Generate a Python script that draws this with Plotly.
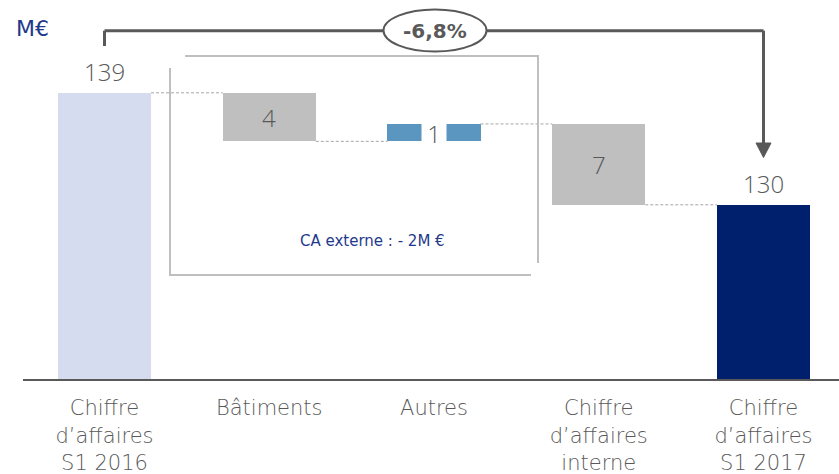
import plotly.graph_objects as go

# ---- data ----
categories = ["Chiffre<br>d’affaires<br>S1 2016", "Bâtiments", "Autres",
              "Chiffre<br>d’affaires<br>interne", "Chiffre<br>d’affaires<br>S1 2017"]
start_value = 139
deltas = [-3.9, 1.4, -6.5]
end_value = 130
value_labels = ["139", "4", "1", "7", "130"]
bar_colors = ["#D6DCF0", "#BFBFBF", "#5B96C0", "#BFBFBF", "#00206E"]
variation_label = "-6,8%"
unit_label = "M€"
note_label = "CA externe : - 2M €"

# ---- derived geometry from data ----
levels = [start_value]
for d in deltas:
    levels.append(levels[-1] + d)
bases, heights = [0], [start_value]
for i, d in enumerate(deltas):
    lo = min(levels[i], levels[i + 1])
    bases.append(lo)
    heights.append(abs(d))
bases.append(0)
heights.append(end_value)
tops = [b + h for b, h in zip(bases, heights)]
xs = list(range(len(categories)))

BAR_W = 0.565
Y_MIN, Y_MAX = 116, 146.46
PLOT_L, PLOT_R, PLOT_B = 23, 839, 379   # pixel frame of the plot area
W, H = 839, 474
UNIT = 164.75


def px(xp):
    return (xp - PLOT_L) / (PLOT_R - PLOT_L)


def py(yp):
    return (PLOT_B - yp) / PLOT_B


GRAY_TXT = "#595959"
NAVY = "#1F3A8C"
FONT = "Open Sans"
WIDE = "DejaVu Sans"

fig = go.Figure()
fig.add_trace(go.Bar(
    x=xs, y=heights, base=bases, width=BAR_W,
    marker=dict(color=bar_colors, line=dict(width=0)),
    hoverinfo="skip", showlegend=False,
))

shapes = []
annotations = []

# connectors
for i in range(len(levels)):
    shapes.append(dict(type="line", xref="x", yref="y",
                       x0=xs[i] + BAR_W / 2, x1=xs[i + 1] - BAR_W / 2,
                       y0=levels[i], y1=levels[i],
                       line=dict(color="#A6A6A6", width=1, dash="3px,2px")))

# value labels
for i, lab in enumerate(value_labels):
    if i in (0, len(value_labels) - 1):
        annotations.append(dict(x=xs[i], y=tops[i], xref="x", yref="y",
                                text=lab, showarrow=False, yanchor="bottom",
                                yshift=3, font=dict(family=FONT, size=24, color=GRAY_TXT, weight=300)))
    else:
        extra = {}
        if deltas[i - 1] > 0:
            extra = dict(bgcolor="white", width=22, height=30)
        annotations.append(dict(x=xs[i], y=bases[i] + heights[i] / 2, xref="x", yref="y",
                                text=lab, showarrow=False, yanchor="middle",
                                font=dict(family=FONT, size=24, color=GRAY_TXT, weight=300), **extra))

# bracket box (CA externe)
BOX = "#BFBFBF"
shapes.append(dict(type="path", xref="paper", yref="paper",
                   path=f"M {px(185)} {py(56)} L {px(538)} {py(56)} L {px(538)} {py(263)}",
                   line=dict(color=BOX, width=2)))
shapes.append(dict(type="path", xref="paper", yref="paper",
                   path=f"M {px(170)} {py(68)} L {px(170)} {py(275)} L {px(531)} {py(275)}",
                   line=dict(color=BOX, width=2)))
annotations.append(dict(x=px(372), y=py(241), xref="paper", yref="paper",
                        text=note_label, showarrow=False, xanchor="center", yanchor="middle",
                        font=dict(family=WIDE, size=15, color=NAVY)))

# variation arrow
ARW = "#595959"
y_top = py(30.7)
shapes += [
    dict(type="line", xref="x", yref="paper", x0=xs[0], x1=xs[0], y0=py(46), y1=y_top,
         line=dict(color=ARW, width=3)),
    dict(type="line", xref="x", yref="paper", x0=xs[0], x1=xs[-1], y0=y_top, y1=y_top,
         line=dict(color=ARW, width=3)),
    dict(type="line", xref="x", yref="paper", x0=xs[-1], x1=xs[-1], y0=y_top, y1=py(144),
         line=dict(color=ARW, width=3)),
]
hw = 7.5 / UNIT
shapes.append(dict(type="path", xref="x", yref="paper",
                   path=f"M {xs[-1]-hw} {py(143)} L {xs[-1]+hw} {py(143)} L {xs[-1]} {py(157.5)} Z",
                   fillcolor=ARW, line=dict(color=ARW, width=1)))
shapes.append(dict(type="circle", xref="paper", yref="paper",
                   x0=px(383.5), x1=px(486.5), y0=py(51.5), y1=py(9.5),
                   fillcolor="white", line=dict(color=ARW, width=2)))
annotations.append(dict(x=px(435), y=py(31), xref="paper", yref="paper",
                        text=f"<b>{variation_label}</b>", showarrow=False,
                        xanchor="center", yanchor="middle",
                        font=dict(family=WIDE, size=20, color=ARW)))

# unit label
annotations.append(dict(x=px(14), y=py(28), xref="paper", yref="paper", text=unit_label,
                        showarrow=False, xanchor="left", yanchor="middle",
                        font=dict(family=WIDE, size=22, color=NAVY)))

x0r = -(104.5 - PLOT_L) / UNIT
fig.update_layout(
    width=W, height=H,
    margin=dict(l=PLOT_L, r=W - PLOT_R, t=0, b=H - PLOT_B, autoexpand=False),
    plot_bgcolor="white", paper_bgcolor="white",
    shapes=shapes, annotations=annotations,
    bargap=0,
    xaxis=dict(range=[x0r, x0r + (PLOT_R - PLOT_L) / UNIT],
               tickmode="array", tickvals=xs, ticktext=categories,
               showgrid=False, zeroline=False, showline=True, linecolor="#595959", linewidth=2,
               ticks="", ticklabelstandoff=9, automargin=False,
               tickfont=dict(family=WIDE, size=21, color=GRAY_TXT, weight=200), fixedrange=True),
    yaxis=dict(range=[Y_MIN, Y_MAX], visible=False, fixedrange=True, automargin=False),
)

fig.write_html("out.html", config={"displayModeBar": False},
               post_script="document.body.style.margin='0';")
